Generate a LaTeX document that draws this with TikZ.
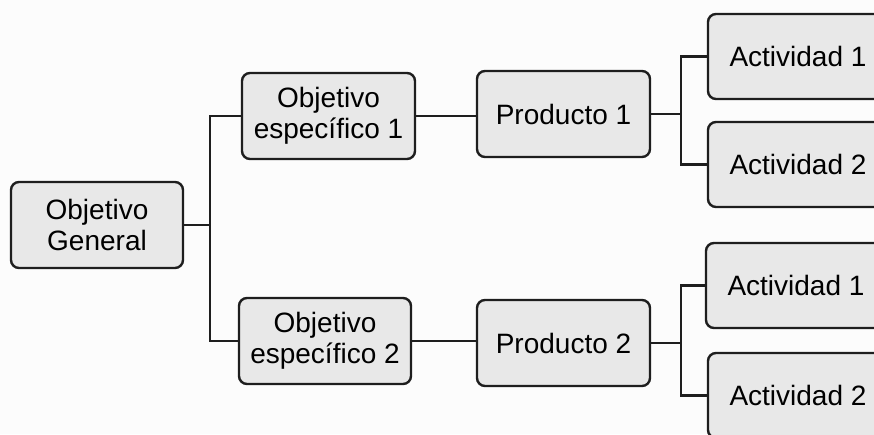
\documentclass[tikz,border=0pt]{standalone}
\usepackage{fontspec}
\setmainfont{Liberation Sans}
\definecolor{boxfill}{HTML}{E8E8E8}
\definecolor{boxline}{HTML}{1E1E1E}
\definecolor{bg}{HTML}{FCFCFC}
\begin{document}
\begin{tikzpicture}[x=1pt,y=-1pt,
  box/.style={draw=boxline, line width=2.4pt, fill=boxfill, rounded corners=8pt,
    align=center, inner sep=0pt, font=\fontsize{28}{31}\selectfont},
  conn/.style={line width=2.4pt, draw=boxline}]
\useasboundingbox (0,0) rectangle (874,434);
\fill[bg] (0,0) rectangle (874,434);
\begin{scope}
\clip (0,0) rectangle (874,434);
\node[box, minimum width=172pt, minimum height=86pt] (OG) at (97,225) {Objetivo\\General};
\node[box, minimum width=173pt, minimum height=86pt] (OE1) at (328.5,116) {Objetivo\\específico 1};
\node[box, minimum width=172pt, minimum height=86pt] (OE2) at (325,341) {Objetivo\\específico 2};
\node[box, minimum width=173pt, minimum height=86pt] (P1) at (563.5,114) {Producto 1};
\node[box, minimum width=173pt, minimum height=86pt] (P2) at (563.5,343) {Producto 2};
\node[box, minimum width=180pt, minimum height=85pt] (A1a) at (798,56.5) {Actividad 1};
\node[box, minimum width=180pt, minimum height=85pt] (A2a) at (798,164.5) {Actividad 2};
\node[box, minimum width=180pt, minimum height=85pt] (A1b) at (796,285.5) {Actividad 1};
\node[box, minimum width=180pt, minimum height=85pt] (A2b) at (798,395.5) {Actividad 2};
\coordinate (j1) at (210,225);
\draw[conn] (OG.east) -- (j1);
\draw[conn] (j1) |- (OE1.west);
\draw[conn] (j1) |- (OE2.west);
\draw[conn] (OE1.east) -- (OE1.east -| P1.west);
\draw[conn] (OE2.east) -- (OE2.east -| P2.west);
\draw[conn] (P1.east) -- ++(30,0) coordinate (j2);
\draw[conn] (j2) |- (A1a.west);
\draw[conn] (j2) |- (A2a.west);
\draw[conn] (P2.east) -- ++(30,0) coordinate (j3);
\draw[conn] (j3) |- (A1b.west);
\draw[conn] (j3) |- (A2b.west);
\end{scope}
\end{tikzpicture}
\end{document}
